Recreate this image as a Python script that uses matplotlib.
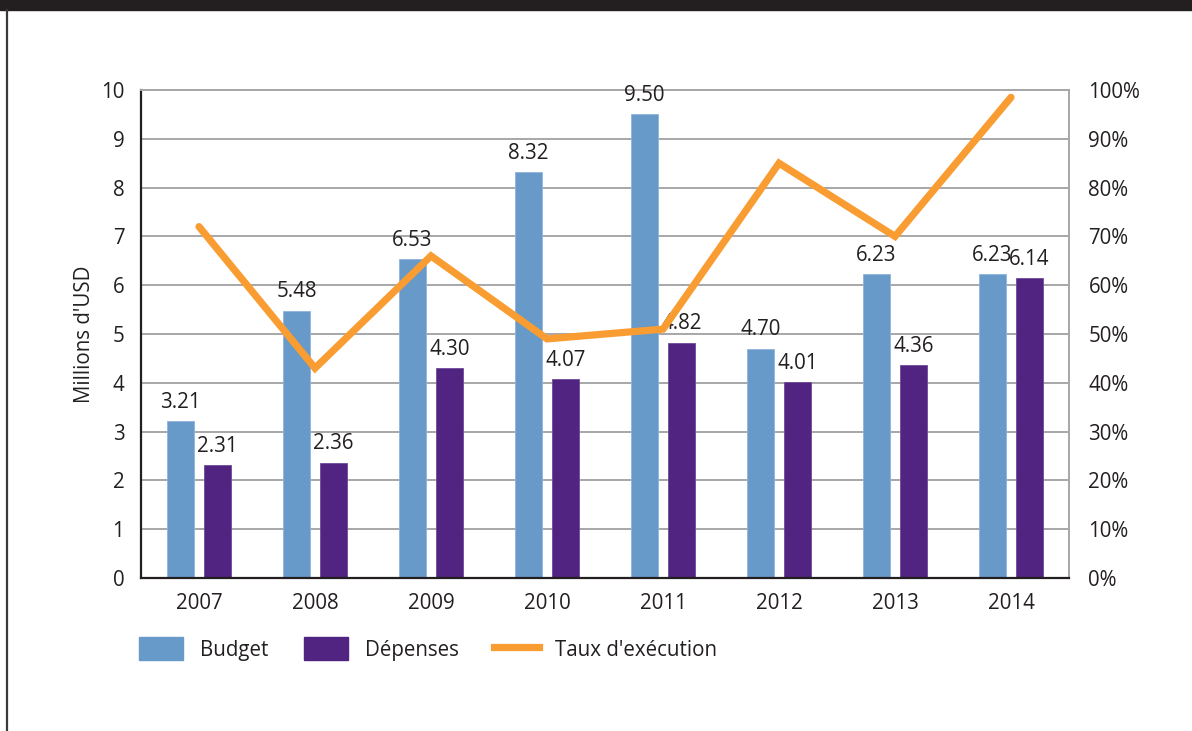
import matplotlib.pyplot as plt
import numpy as np
from matplotlib.patches import Rectangle
from matplotlib.lines import Line2D
from matplotlib.ticker import FuncFormatter

plt.rcParams['font.family'] = ['Open Sans', 'DejaVu Sans']

# Données
annees = ["2007", "2008", "2009", "2010", "2011", "2012", "2013", "2014"]
budget = [3.21, 5.48, 6.53, 8.32, 9.50, 4.70, 6.23, 6.23]
depenses = [2.31, 2.36, 4.30, 4.07, 4.82, 4.01, 4.36, 6.14]
taux = [72, 43, 66, 49, 51, 85, 70, 98.5]   # en %

# Couleurs
c_budget = "#6799C9"
c_dep = "#512481"
c_taux = "#F99D32"
c_texte = "#231F20"
c_grille = "#A7A7A9"

taille = 14.8

fig = plt.figure(figsize=(11.92, 7.31), dpi=100)
ax = fig.add_axes([141/1192, 1 - 578/731, (1069 - 141)/1192, (578 - 90)/731])

x = np.arange(len(annees))
largeur = 0.233
decal = 0.16

b1 = ax.bar(x - decal, budget, largeur, color=c_budget, edgecolor="#8FB5DD",
            linewidth=0.6, zorder=2)
b2 = ax.bar(x + decal, depenses, largeur, color=c_dep, edgecolor="#6E4A99",
            linewidth=0.6, zorder=2)

# Étiquettes de valeurs
for barres, vals in ((b1, budget), (b2, depenses)):
    for rect, v in zip(barres, vals):
        ax.annotate(f"{v:.2f}", (rect.get_x() + rect.get_width()/2, v),
                    xytext=(0, 6), textcoords="offset points",
                    ha="center", va="bottom", fontsize=taille, color=c_texte,
                    annotation_clip=False, zorder=5)

ax.set_xlim(-0.5, len(annees) - 0.5)
ax.set_ylim(0, 10)
ax.set_yticks(range(0, 11))
ax.set_xticks(x)
ax.set_xticklabels(annees)
ax.yaxis.grid(True, color=c_grille, linewidth=1.4)
ax.set_axisbelow(True)
ax.tick_params(axis="both", length=0, labelsize=taille, colors=c_texte)
ax.tick_params(axis="y", pad=12)
ax.tick_params(axis="x", pad=11)
ax.set_ylabel("Millions d'USD", fontsize=taille, color=c_texte, labelpad=4)

ax.spines["left"].set_color(c_texte)
ax.spines["left"].set_linewidth(1.6)
ax.spines["bottom"].set_color(c_texte)
ax.spines["bottom"].set_linewidth(1.6)
ax.spines["top"].set_color(c_grille)
ax.spines["top"].set_linewidth(1.4)
ax.spines["right"].set_color(c_grille)
ax.spines["right"].set_linewidth(1.4)

# Taux d'exécution sur l'axe de droite
ax2 = ax.twinx()
ax2.plot(x, taux, color=c_taux, linewidth=5.2, solid_capstyle="round",
         solid_joinstyle="miter", zorder=4, clip_on=False)
ax2.set_ylim(0, 100)
ax2.set_yticks(range(0, 101, 10))
ax2.yaxis.set_major_formatter(FuncFormatter(lambda v, p: f"{v:.0f}%"))
ax2.tick_params(axis="y", length=0, labelsize=taille, colors=c_texte, pad=14)
for s in ax2.spines.values():
    s.set_visible(False)

# Légende
poignees = [
    Rectangle((0, 0), 1, 1, color=c_budget),
    Rectangle((0, 0), 1, 1, color=c_dep),
    Line2D([0], [0], color=c_taux, linewidth=5.2),
]
fig.legend(poignees, ["Budget", "Dépenses", "Taux d'exécution"],
           loc="center left", bbox_to_anchor=(139/1192, 1 - 649/731),
           ncol=3, frameon=False, fontsize=taille, handlelength=2.15,
           handleheight=1.35, handletextpad=0.8, columnspacing=1.75,
           borderpad=0, borderaxespad=0, labelcolor=c_texte)

# Cadre de la page
fig.patches.append(Rectangle((0, 1 - 10/731), 1, 10/731, transform=fig.transFigure,
                             color=c_texte, zorder=0))
fig.lines.append(Line2D([7/1192, 7/1192], [0, 1 - 10/731], transform=fig.transFigure,
                        color="#3A3A3A", linewidth=1.6))

fig.savefig("out.png", dpi=100)
